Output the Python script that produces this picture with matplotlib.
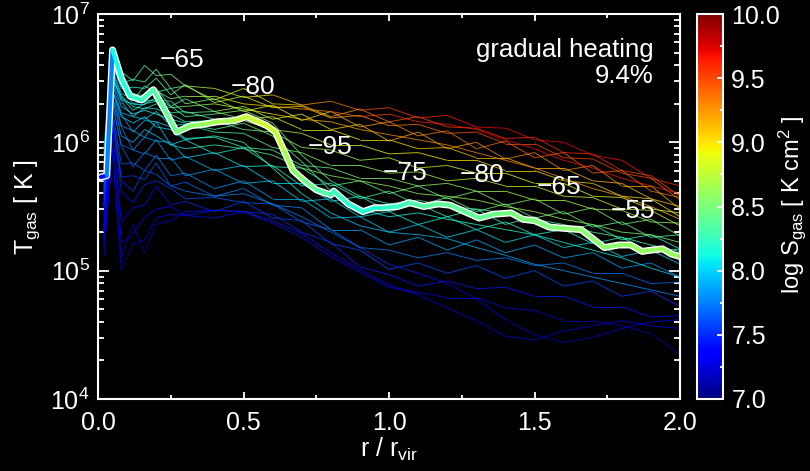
import numpy as np
import matplotlib
matplotlib.use('Agg')
import matplotlib.pyplot as plt
from matplotlib.collections import LineCollection
from matplotlib.colors import Normalize
from matplotlib.cm import ScalarMappable
from matplotlib.ticker import FixedLocator, LogLocator, NullFormatter

plt.rcParams['font.family'] = ['Liberation Sans', 'DejaVu Sans']
plt.rcParams['mathtext.fontset'] = 'custom'
plt.rcParams['mathtext.rm'] = 'Liberation Sans'
plt.rcParams['mathtext.it'] = 'Liberation Sans'
plt.rcParams['mathtext.default'] = 'regular'

# ---------------- data ----------------
r_grid = [0.02, 0.05, 0.08, 0.12, 0.16, 0.20, 0.25, 0.30, 0.40, 0.50, 0.60, 0.70, 0.80,
          0.90, 1.00, 1.10, 1.20, 1.30, 1.40, 1.50, 1.60, 1.70, 1.80, 1.90, 2.00]

# log10 T_gas [K] of the thin tracks, and log10 S_gas along them
t01 = [5.95,6.72,6.55,6.48,6.60,6.52,6.53,6.44,6.42,6.35,6.37,6.29,6.32,6.25,6.27,6.19,6.21,6.12,6.11,6.02,6.00,5.90,5.86,5.72,5.66]
s01 = [7.6,8.1,8.2,8.3,8.4,8.45,8.5,8.6,8.75,8.9,9.05,9.2,9.3,9.4,9.5,9.55,9.6,9.65,9.7,9.7,9.7,9.7,9.65,9.6,9.55]
t02 = [5.85,6.66,6.46,6.49,6.47,6.57,6.42,6.44,6.33,6.42,6.30,6.29,6.20,6.26,6.16,6.20,6.12,6.11,6.03,6.04,5.92,5.91,5.78,5.74,5.58]
s02 = [7.5,8.05,8.15,8.25,8.3,8.4,8.45,8.55,8.7,8.85,9.0,9.1,9.2,9.3,9.4,9.45,9.5,9.55,9.6,9.6,9.6,9.6,9.55,9.5,9.45]
t03 = [5.80,6.61,6.42,6.43,6.42,6.50,6.37,6.45,6.31,6.36,6.27,6.28,6.19,6.21,6.13,6.14,6.07,6.08,5.99,5.99,5.88,5.87,5.76,5.72,5.55]
s03 = [7.5,8.0,8.1,8.2,8.3,8.35,8.4,8.55,8.65,8.8,8.95,9.05,9.15,9.25,9.3,9.35,9.4,9.45,9.5,9.5,9.5,9.5,9.5,9.45,9.4]
t04 = [5.90,6.63,6.49,6.33,6.44,6.39,6.42,6.30,6.34,6.24,6.29,6.17,6.24,6.12,6.16,6.05,6.09,5.95,6.01,5.88,5.92,5.76,5.78,5.62,5.57]
s04 = [7.5,8.0,8.1,8.15,8.25,8.3,8.35,8.45,8.6,8.75,8.9,9.0,9.1,9.2,9.25,9.3,9.35,9.35,9.4,9.4,9.45,9.4,9.4,9.35,9.3]
t05 = [5.70,6.56,6.38,6.34,6.31,6.42,6.28,6.34,6.24,6.28,6.18,6.22,6.10,6.14,6.01,6.08,5.95,6.00,5.87,5.92,5.78,5.82,5.66,5.66,5.48]
s05 = [7.4,7.95,8.05,8.1,8.2,8.25,8.3,8.4,8.55,8.7,8.85,8.95,9.0,9.1,9.15,9.2,9.2,9.25,9.25,9.3,9.3,9.3,9.25,9.2,9.15]
t06 = [5.80,6.58,6.44,6.30,6.32,6.33,6.32,6.23,6.24,6.18,6.20,6.10,6.10,6.02,6.02,5.95,5.96,5.88,5.88,5.80,5.80,5.70,5.68,5.56,5.50]
s06 = [7.4,7.95,8.0,8.05,8.1,8.2,8.25,8.35,8.5,8.65,8.8,8.85,8.9,9.0,9.0,9.05,9.1,9.1,9.15,9.15,9.15,9.15,9.1,9.1,9.05]
t07 = [5.60,6.50,6.33,6.30,6.30,6.32,6.23,6.24,6.18,6.17,6.10,6.07,5.98,5.98,5.91,5.92,5.86,5.86,5.78,5.78,5.70,5.68,5.58,5.56,5.42]
s07 = [7.3,7.9,8.0,8.05,8.15,8.15,8.2,8.3,8.45,8.55,8.7,8.75,8.8,8.85,8.9,8.95,9.0,9.0,9.05,9.05,9.05,9.05,9.0,9.0,8.95]
t08 = [5.70,6.52,6.32,6.20,6.27,6.26,6.22,6.16,6.17,6.10,6.08,5.96,5.94,5.86,5.88,5.80,5.82,5.76,5.76,5.68,5.68,5.58,5.57,5.48,5.45]
s08 = [7.3,7.9,7.95,8.0,8.05,8.1,8.15,8.25,8.35,8.45,8.55,8.6,8.65,8.7,8.75,8.8,8.85,8.9,8.9,8.9,8.9,8.9,8.85,8.85,8.8]
t09 = [5.60,6.45,6.23,6.20,6.18,6.24,6.13,6.14,6.08,6.07,5.96,5.92,5.82,5.82,5.76,5.77,5.70,5.72,5.66,5.66,5.58,5.57,5.48,5.47,5.35]
s09 = [7.3,7.85,7.9,7.95,8.0,8.05,8.1,8.2,8.3,8.4,8.45,8.5,8.55,8.6,8.65,8.7,8.7,8.75,8.75,8.8,8.8,8.8,8.75,8.75,8.7]
t10 = [5.50,6.40,6.22,6.08,6.17,6.16,6.12,6.03,6.04,5.96,5.94,5.82,5.80,5.72,5.72,5.66,5.68,5.62,5.62,5.55,5.55,5.48,5.47,5.38,5.37]
s10 = [7.2,7.8,7.85,7.9,7.95,8.0,8.05,8.1,8.2,8.3,8.35,8.4,8.45,8.5,8.55,8.6,8.6,8.65,8.65,8.7,8.7,8.7,8.65,8.65,8.6]
t11 = [5.60,6.42,6.13,6.09,6.04,6.16,5.98,6.02,5.91,5.96,5.81,5.80,5.66,5.70,5.60,5.66,5.56,5.62,5.51,5.56,5.44,5.49,5.36,5.40,5.27]
s11 = [7.2,7.8,7.8,7.85,7.9,7.95,8.0,8.05,8.15,8.2,8.25,8.3,8.35,8.4,8.45,8.45,8.5,8.5,8.55,8.55,8.55,8.55,8.5,8.5,8.45]
t12 = [5.50,6.35,6.12,5.94,6.04,6.01,6.00,5.88,5.92,5.81,5.82,5.66,5.68,5.56,5.62,5.51,5.57,5.46,5.52,5.41,5.46,5.34,5.38,5.26,5.28]
s12 = [7.1,7.75,7.75,7.8,7.85,7.9,7.95,8.0,8.05,8.1,8.15,8.2,8.25,8.3,8.35,8.35,8.4,8.4,8.4,8.45,8.45,8.45,8.4,8.4,8.35]
t13 = [5.40,6.30,5.98,5.94,5.91,6.02,5.86,5.89,5.78,5.82,5.68,5.68,5.54,5.58,5.46,5.52,5.42,5.48,5.36,5.42,5.31,5.36,5.24,5.28,5.17]
s13 = [7.1,7.7,7.7,7.75,7.8,7.85,7.85,7.9,7.95,8.0,8.05,8.1,8.15,8.15,8.2,8.25,8.25,8.3,8.3,8.3,8.3,8.3,8.25,8.25,8.2]
t14 = [5.50,6.30,5.97,5.81,5.92,5.88,5.88,5.74,5.79,5.68,5.70,5.54,5.56,5.42,5.46,5.36,5.42,5.32,5.38,5.28,5.32,5.21,5.26,5.14,5.17]
s14 = [7.1,7.7,7.65,7.7,7.75,7.8,7.8,7.85,7.9,7.95,8.0,8.0,8.05,8.05,8.1,8.1,8.15,8.15,8.15,8.2,8.2,8.2,8.15,8.15,8.1]
t15 = [5.30,6.25,5.83,5.84,5.78,5.90,5.74,5.76,5.64,5.70,5.56,5.56,5.41,5.42,5.30,5.36,5.26,5.32,5.22,5.28,5.18,5.22,5.11,5.16,5.05]
s15 = [7.0,7.65,7.6,7.65,7.7,7.75,7.75,7.8,7.85,7.85,7.9,7.95,7.95,8.0,8.0,8.0,8.05,8.05,8.05,8.05,8.05,8.05,8.0,8.0,7.95]
t16 = [5.40,6.20,5.73,5.74,5.71,5.84,5.66,5.69,5.58,5.64,5.51,5.49,5.32,5.32,5.20,5.26,5.16,5.24,5.14,5.20,5.10,5.14,5.02,5.06,4.95]
s16 = [7.0,7.6,7.5,7.55,7.6,7.65,7.65,7.7,7.75,7.75,7.8,7.8,7.85,7.85,7.9,7.9,7.9,7.9,7.9,7.9,7.9,7.9,7.85,7.85,7.8]
t17 = [5.30,6.15,5.62,5.53,5.67,5.70,5.64,5.56,5.57,5.53,5.52,5.38,5.32,5.18,5.16,5.10,5.14,5.08,5.10,5.04,5.06,4.98,4.98,4.90,4.91]
s17 = [7.0,7.55,7.4,7.45,7.5,7.55,7.55,7.6,7.65,7.65,7.7,7.7,7.7,7.75,7.75,7.75,7.75,7.75,7.75,7.75,7.75,7.75,7.7,7.7,7.7]
t18 = [5.20,6.10,5.38,5.49,5.51,5.66,5.51,5.54,5.46,5.54,5.41,5.39,5.21,5.16,5.01,5.06,4.98,5.04,4.94,5.00,4.88,4.92,4.80,4.84,4.72]
s18 = [7.0,7.5,7.3,7.35,7.4,7.45,7.45,7.5,7.55,7.55,7.6,7.6,7.6,7.6,7.6,7.6,7.6,7.6,7.6,7.6,7.6,7.6,7.55,7.55,7.55]
t19 = [5.20,6.05,5.22,5.28,5.42,5.48,5.50,5.43,5.47,5.46,5.44,5.30,5.22,5.03,4.97,4.88,4.92,4.86,4.87,4.80,4.80,4.72,4.72,4.64,4.65]
s19 = [7.0,7.45,7.2,7.25,7.3,7.35,7.35,7.4,7.45,7.5,7.5,7.5,7.5,7.5,7.45,7.45,7.45,7.45,7.45,7.45,7.45,7.45,7.45,7.4,7.4]
t20 = [5.10,5.95,5.00,5.21,5.24,5.41,5.44,5.43,5.41,5.46,5.39,5.29,5.14,5.01,4.89,4.81,4.71,4.61,4.49,4.46,4.53,4.57,4.61,4.57,4.55]
s20 = [7.0,7.4,7.1,7.2,7.2,7.3,7.3,7.35,7.4,7.45,7.45,7.45,7.4,7.4,7.35,7.3,7.3,7.25,7.2,7.2,7.25,7.3,7.3,7.3,7.3]
t21 = [5.20,5.90,5.10,5.36,5.14,5.36,5.39,5.46,5.47,5.46,5.37,5.26,5.11,4.99,4.87,4.83,4.79,4.79,4.71,4.69,4.61,4.61,4.57,4.51,4.35]
s21 = [7.0,7.35,7.1,7.2,7.1,7.25,7.3,7.35,7.4,7.45,7.45,7.4,7.4,7.35,7.35,7.3,7.3,7.3,7.25,7.25,7.2,7.2,7.2,7.15,7.1]
t22 = [5.75,6.55,6.35,6.25,6.30,6.35,6.28,6.20,6.22,6.25,6.15,5.90,5.70,5.58,5.52,5.55,5.50,5.48,5.45,5.40,5.36,5.30,5.26,5.20,5.15]
s22 = [7.4,8.0,8.05,8.1,8.15,8.2,8.25,8.3,8.45,8.6,8.65,8.5,8.3,8.2,8.2,8.3,8.3,8.35,8.35,8.35,8.35,8.35,8.35,8.3,8.3]
t23 = [5.65,6.48,6.28,6.22,6.25,6.22,6.18,6.15,6.10,6.15,6.05,5.85,5.62,5.48,5.42,5.45,5.40,5.36,5.32,5.28,5.22,5.16,5.10,5.02,4.95]
s23 = [7.35,7.95,8.0,8.05,8.1,8.15,8.2,8.25,8.35,8.5,8.55,8.4,8.2,8.1,8.1,8.15,8.15,8.2,8.2,8.2,8.15,8.15,8.1,8.05,8.0]
t24 = [5.55,6.40,6.20,6.15,6.20,6.12,6.10,6.02,6.05,6.00,5.80,5.60,5.45,5.35,5.30,5.28,5.25,5.18,5.12,5.05,5.00,4.95,4.90,4.85,4.80]
s24 = [7.3,7.9,7.95,8.0,8.05,8.05,8.1,8.15,8.25,8.3,8.25,8.1,8.0,7.95,7.95,7.95,7.95,7.95,7.9,7.9,7.85,7.85,7.85,7.8,7.8]
t25 = [5.90,6.60,6.45,6.38,6.36,6.40,6.34,6.36,6.36,6.30,6.28,6.26,6.24,6.20,6.22,6.16,6.14,6.10,6.02,5.95,5.86,5.80,5.72,5.66,5.60]
s25 = [7.6,8.1,8.2,8.25,8.3,8.4,8.5,8.6,8.8,8.95,9.1,9.25,9.35,9.45,9.55,9.6,9.65,9.7,9.7,9.7,9.65,9.65,9.6,9.6,9.6]
t26 = [5.70,6.50,6.36,6.28,6.26,6.30,6.27,6.28,6.30,6.26,6.22,6.18,6.16,6.10,6.06,6.02,5.98,5.92,5.86,5.80,5.72,5.64,5.58,5.50,5.40]
s26 = [7.5,8.0,8.1,8.15,8.2,8.3,8.4,8.5,8.7,8.85,9.0,9.1,9.15,9.2,9.25,9.25,9.3,9.3,9.3,9.3,9.25,9.2,9.2,9.15,9.1]
t27 = [5.50,6.35,6.05,6.00,6.10,6.05,5.98,5.95,5.98,5.95,5.90,5.80,5.74,5.70,5.66,5.60,5.58,5.55,5.50,5.46,5.40,5.36,5.30,5.28,5.22]
s27 = [7.2,7.8,7.85,7.9,8.0,8.0,8.05,8.1,8.25,8.35,8.45,8.5,8.55,8.6,8.6,8.6,8.65,8.65,8.65,8.65,8.6,8.6,8.55,8.55,8.5]
t28 = [5.30,6.20,5.70,5.62,5.78,5.75,5.66,5.62,5.58,5.60,5.52,5.42,5.30,5.18,5.05,4.98,4.90,4.78,4.62,4.50,4.44,4.48,4.55,4.60,4.62]
s28 = [7.1,7.6,7.5,7.55,7.6,7.65,7.7,7.75,7.8,7.8,7.8,7.75,7.7,7.6,7.5,7.45,7.4,7.35,7.25,7.2,7.15,7.2,7.25,7.3,7.3]

thin_T = [t01, t02, t03, t04, t05, t06, t07, t08, t09, t10, t11, t12, t13, t14,
          t15, t16, t17, t18, t19, t20, t21, t22, t23, t24, t25, t26, t27, t28]
thin_S = [s01, s02, s03, s04, s05, s06, s07, s08, s09, s10, s11, s12, s13, s14,
          s15, s16, s17, s18, s19, s20, s21, s22, s23, s24, s25, s26, s27, s28]

# highlighted track
main_r = [0.01,0.03,0.05,0.08,0.11,0.15,0.19,0.23,0.27,0.32,0.36,0.41,0.47,0.51,0.55,0.58,0.61,0.64,0.67,0.71,
          0.75,0.80,0.81,0.86,0.91,0.95,0.98,1.03,1.07,1.12,1.17,1.21,1.26,1.31,1.36,1.42,1.46,1.50,1.55,1.60,
          1.66,1.70,1.74,1.79,1.83,1.87,1.90,1.94,1.97,2.00]
main_logT = [5.73,5.74,6.72,6.50,6.36,6.33,6.41,6.25,6.08,6.13,6.14,6.16,6.17,6.20,6.16,6.13,6.08,5.93,5.78,5.70,
             5.63,5.59,5.62,5.52,5.46,5.49,5.49,5.50,5.53,5.50,5.52,5.51,5.46,5.41,5.44,5.45,5.40,5.39,5.34,5.33,
             5.32,5.25,5.18,5.20,5.20,5.15,5.16,5.17,5.13,5.11]
main_S = [7.4,7.4,8.1,8.15,8.2,8.25,8.35,8.4,8.45,8.55,8.6,8.65,8.7,8.75,8.8,8.8,8.8,8.7,8.6,8.5,
          8.4,8.3,8.3,8.2,8.15,8.2,8.2,8.25,8.3,8.35,8.4,8.4,8.4,8.4,8.45,8.5,8.5,8.5,8.5,8.55,
          8.55,8.55,8.55,8.55,8.6,8.6,8.6,8.6,8.6,8.6]

ann_labels = ['\u221265', '\u221280', '\u221295', '\u221275', '\u221280', '\u221265', '\u221255']
ann_r = [0.289, 0.533, 0.797, 1.055, 1.320, 1.584, 1.838]
ann_logT = [6.64, 6.43, 5.96, 5.76, 5.745, 5.65, 5.465]

x_ticks = [0.0, 0.5, 1.0, 1.5, 2.0]
y_ticks = [1e4, 1e5, 1e6, 1e7]
cb_ticks = [7.0, 7.5, 8.0, 8.5, 9.0, 9.5, 10.0]
S_min, S_max = 7.0, 10.0

# ---------------- figure ----------------
W, H = 810, 471
fig = plt.figure(figsize=(W / 100, H / 100), dpi=100, facecolor='black')
ax = fig.add_axes([98 / W, 1 - 399 / H, (680 - 98) / W, (399 - 14) / H], facecolor='black')
cax = fig.add_axes([697 / W, 1 - 399 / H, (723 - 697) / W, (399 - 14) / H], facecolor='black')

cmap = plt.get_cmap('jet')
norm = Normalize(S_min, S_max)


def segs(rr, tt):
    pts = np.column_stack([np.asarray(rr, float), 10 ** np.asarray(tt, float)])
    return np.stack([pts[:-1], pts[1:]], axis=1)


def seg_vals(ss):
    ss = np.asarray(ss, float)
    return 0.5 * (ss[:-1] + ss[1:])


# thin tracks
for tt, ss in zip(thin_T, thin_S):
    lc = LineCollection(segs(r_grid, tt), cmap=cmap, norm=norm, linewidths=0.7, alpha=0.75)
    lc.set_array(seg_vals(ss))
    ax.add_collection(lc)

# highlighted track: white outline + coloured core
ax.plot(main_r, 10 ** np.asarray(main_logT), color='white', lw=5.0, solid_joinstyle='round',
        solid_capstyle='round', zorder=5)
lc = LineCollection(segs(main_r, main_logT), cmap=cmap, norm=norm, linewidths=3.0, zorder=6,
                    capstyle='round', joinstyle='round')
lc.set_array(seg_vals(main_S))
ax.add_collection(lc)

for lab, rx, ty in zip(ann_labels, ann_r, ann_logT):
    ax.text(rx, 10 ** ty, lab, color='white', fontsize=19, ha='center', va='center', zorder=8)

ax.text(0.955, 0.906, 'gradual heating', transform=ax.transAxes, color='white', fontsize=18.5,
        ha='right', va='center')
ax.text(0.955, 0.839, '9.4%', transform=ax.transAxes, color='white', fontsize=18.5,
        ha='right', va='center')

ax.set_xlim(0, 2)
ax.set_yscale('log')
ax.set_ylim(1e4, 1e7)
ax.set_xticks(x_ticks)
ax.set_xticklabels(['%.1f' % v for v in x_ticks])
ax.xaxis.set_minor_locator(FixedLocator([0.25, 0.75, 1.25, 1.75]))
ax.set_yticks(y_ticks)
ax.set_yticklabels([r'$10^{%d}$' % int(np.log10(v)) for v in y_ticks])
ax.yaxis.set_minor_locator(LogLocator(base=10, subs=np.arange(2, 10)))
ax.yaxis.set_minor_formatter(NullFormatter())

for sp in ax.spines.values():
    sp.set_color('white')
    sp.set_linewidth(1.5)
ax.tick_params(axis='both', which='both', direction='in', colors='white', top=True, right=True,
               labelsize=18, width=1.3)
ax.tick_params(axis='x', which='major', length=5, pad=9)
ax.tick_params(axis='x', which='minor', length=3)
ax.tick_params(axis='y', which='major', length=8, pad=6)
ax.tick_params(axis='y', which='minor', length=4.5)

ax.set_xlabel(r'r / r$_{\rm vir}$', color='white', fontsize=18, labelpad=0)
ax.set_ylabel(r'T$_{\rm gas}$ [ K ]', color='white', fontsize=18, labelpad=6)

# colorbar
sm = ScalarMappable(norm=norm, cmap=cmap)
cb = fig.colorbar(sm, cax=cax, orientation='vertical')
cb.set_ticks(cb_ticks)
cb.set_ticklabels(['%.1f' % v for v in cb_ticks])
cb.ax.yaxis.set_minor_locator(FixedLocator(np.arange(7.25, 10.0, 0.5)))
cb.outline.set_edgecolor('white')
cb.outline.set_linewidth(1.5)
cax.tick_params(which='both', direction='in', colors='white', labelsize=18, width=1.3, right=True)
cax.tick_params(which='major', length=4, pad=6)
cax.tick_params(which='minor', length=2.5)
fig.text(792 / W, 1 - 205 / H, r'log S$_{\rm gas}$ [ K cm$^{2}$ ]', color='white', fontsize=17,
         rotation=90, ha='center', va='center')

fig.savefig('out.png', dpi=100, facecolor='black')
